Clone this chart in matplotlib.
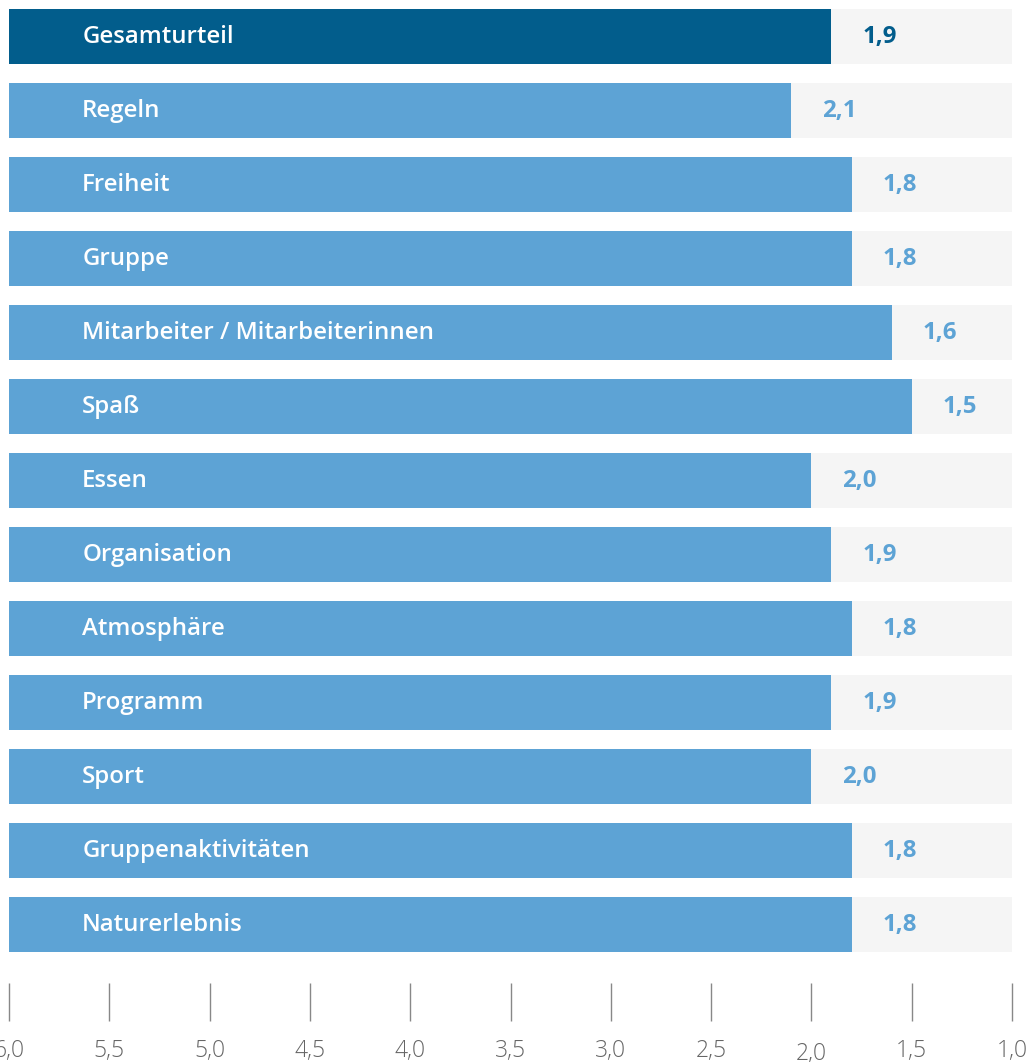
import matplotlib
matplotlib.use("Agg")
import matplotlib.pyplot as plt
import matplotlib.transforms as mtransforms
import numpy as np

# Datos
categorias = ['Gesamturteil', 'Regeln', 'Freiheit', 'Gruppe',
              'Mitarbeiter / Mitarbeiterinnen', 'Spaß', 'Essen', 'Organisation',
              'Atmosphäre', 'Programm', 'Sport', 'Gruppenaktivitäten', 'Naturerlebnis']
notas = [1.9, 2.1, 1.8, 1.8, 1.6, 1.5, 2.0, 1.9, 1.8, 1.9, 2.0, 1.8, 1.8]
ticks = [6.0, 5.5, 5.0, 4.5, 4.0, 3.5, 3.0, 2.5, 2.0, 1.5, 1.0]
tick_labels = ['6,0', '5,5', '5,0', '4,5', '4,0', '3,5', '3,0', '2,5', '2,0', '1,5', '1,0']

c_oscuro = '#025D8C'
c_claro = '#5DA3D5'
c_fondo = '#F5F5F5'

plt.rcParams['font.family'] = ['Open Sans', 'DejaVu Sans']

fig = plt.figure(figsize=(10.33, 10.62), dpi=100)
fig.set_facecolor('white')
ax = fig.add_axes([9/1033, 79/1062, 1003/1033, 974/1062])
ax.set_facecolor('white')

y = np.arange(len(categorias))
alto = 55/74
colores = [c_oscuro] + [c_claro] * (len(categorias) - 1)

# Fondo gris y barras
ax.barh(y, [6.0 - 1.0] * len(y), left=1.0, height=alto, color=c_fondo, zorder=1)
ax.barh(y, [6.0 - v for v in notas], left=notas, height=alto, color=colores, zorder=2)

ax.set_xlim(6.0, 1.0)
ax.set_ylim(12.79, -alto/2)

# Etiquetas
for i, (cat, v) in enumerate(zip(categorias, notas)):
    ax.text(5.635, i, cat, ha='left', va='center', color='white',
            fontsize=17.3, fontweight='semibold', zorder=3)
    ax.text(v - 0.24, i, f'{v:.1f}'.replace('.', ','), ha='center', va='center',
            color=colores[i], fontsize=17.3, fontweight='bold', zorder=3)

# Ejes
for s in ax.spines.values():
    s.set_visible(False)
ax.set_yticks([])
ax.set_xticks(ticks)
ax.set_xticklabels(tick_labels, fontsize=16.5, fontweight='light', color='#666666')
ax.tick_params(axis='x', direction='out', length=27, width=1.0, color='#888888', pad=13)

# "2,0" un poco más abajo
for lab in ax.get_xticklabels():
    if lab.get_text() == '2,0':
        lab.set_transform(lab.get_transform() +
                          mtransforms.ScaledTranslation(0, -3/100, fig.dpi_scale_trans))

fig.savefig('out.png', dpi=100)
